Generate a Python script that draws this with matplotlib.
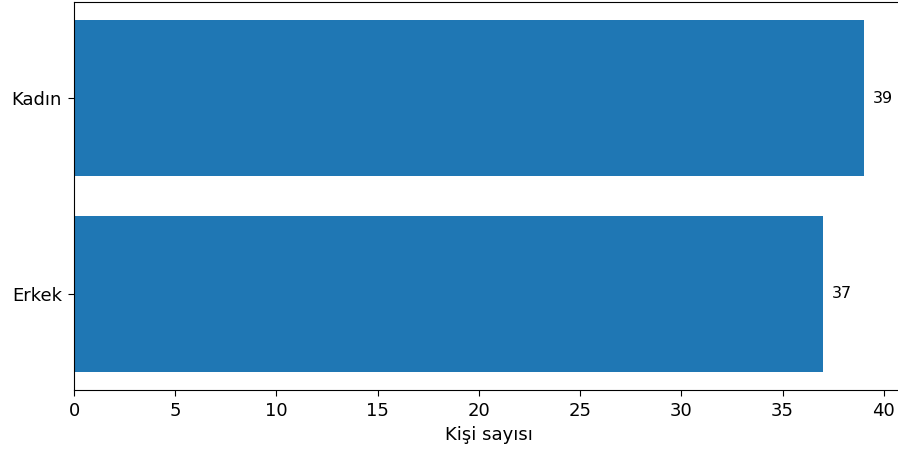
import matplotlib
matplotlib.use('agg')
import matplotlib.pyplot as plt

categories = ["Erkek", "Kadın"]
counts = [37, 39]

fig = plt.figure(figsize=(8.98, 4.5), dpi=100)
# axes run a bit past the right edge, like the cropped original
ax = fig.add_axes([74/898, 60/450, 829/898, 388/450])
bars = ax.barh(categories, counts, color="#1f77b4", height=0.8)
for b, v in zip(bars, counts):
    ax.text(b.get_width() + 0.45, b.get_y() + b.get_height()/2, str(v),
            va="center", ha="left", fontsize=11.5)
ax.set_xlim(0, 40.95)
ax.set_xticks(range(0, 45, 5))
ax.tick_params(labelsize=13, length=4.5, pad=4.3)
ax.set_xlabel("Kişi sayısı", fontsize=13)
fig.savefig("out.png", dpi=100)
